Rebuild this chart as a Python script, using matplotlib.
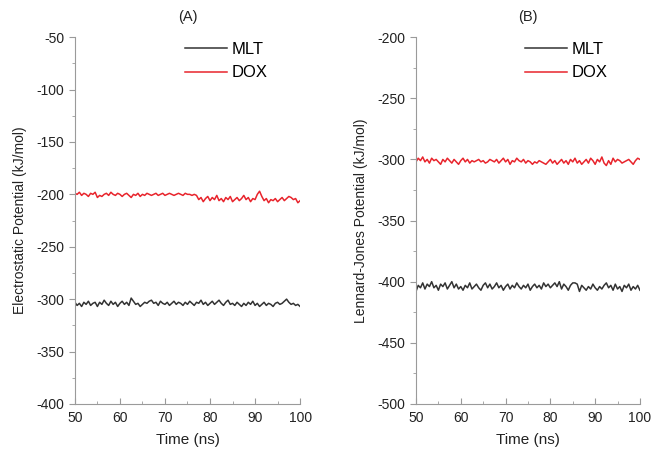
import numpy as np
import matplotlib
matplotlib.use("Agg")
import matplotlib.pyplot as plt
from matplotlib.ticker import MultipleLocator

plt.rcParams['font.family'] = ['Liberation Sans', 'DejaVu Sans']
plt.rcParams['axes.unicode_minus'] = False

mlt_a = [-303,-306,-304,-307,-303,-305,-302,-306,-304,-303,-307,-303,-305,-301,-304,-306,-302,-305,-303,-307,
         -304,-302,-305,-303,-306,-299,-302,-305,-304,-307,-305,-303,-304,-302,-301,-304,-303,-306,-302,-304,
         -305,-303,-306,-304,-302,-305,-303,-304,-306,-303,-305,-302,-304,-306,-303,-304,-301,-305,-303,-306,
         -304,-302,-305,-303,-301,-304,-306,-303,-301,-305,-304,-306,-303,-305,-307,-304,-306,-303,-305,-302,
         -306,-304,-307,-305,-303,-306,-304,-305,-307,-304,-303,-305,-304,-302,-300,-303,-305,-304,-306,-305,-307]
dox_a = [-199,-200,-198,-201,-199,-200,-202,-199,-200,-198,-203,-201,-202,-200,-199,-201,-198,-200,-201,-199,
         -200,-202,-200,-199,-201,-203,-200,-201,-199,-202,-200,-201,-199,-200,-201,-200,-199,-201,-200,-199,
         -201,-200,-199,-200,-201,-200,-199,-200,-201,-199,-200,-200,-201,-200,-201,-205,-203,-207,-204,-202,
         -206,-203,-205,-201,-206,-204,-207,-203,-205,-202,-207,-205,-203,-206,-204,-201,-205,-203,-207,-204,
         -205,-200,-197,-202,-206,-204,-208,-205,-206,-204,-207,-205,-203,-206,-204,-202,-203,-205,-204,-208,-206]
mlt_b = [-408,-403,-405,-401,-406,-402,-404,-400,-405,-403,-407,-402,-404,-401,-406,-403,-400,-405,-402,-406,
         -404,-407,-403,-405,-401,-406,-404,-402,-405,-407,-403,-401,-405,-402,-406,-404,-401,-405,-403,-407,
         -404,-402,-406,-403,-405,-401,-404,-406,-403,-405,-402,-407,-404,-402,-405,-403,-406,-401,-404,-402,
         -405,-403,-401,-404,-400,-406,-402,-404,-407,-403,-401,-401,-402,-408,-403,-405,-407,-404,-406,-402,
         -405,-407,-404,-406,-403,-401,-405,-403,-407,-402,-406,-404,-408,-403,-405,-402,-407,-404,-406,-403,-407]
dox_b = [-302,-299,-301,-298,-302,-300,-303,-299,-301,-300,-302,-304,-300,-302,-299,-301,-303,-300,-302,-304,
         -301,-299,-302,-300,-303,-301,-302,-301,-300,-302,-301,-303,-302,-300,-301,-302,-300,-303,-301,-299,
         -302,-300,-304,-301,-302,-299,-301,-302,-300,-303,-301,-302,-304,-302,-303,-301,-302,-303,-304,-302,
         -300,-303,-301,-304,-302,-300,-303,-301,-304,-300,-302,-299,-303,-301,-304,-302,-300,-303,-299,-301,
         -304,-300,-302,-298,-303,-305,-301,-304,-299,-302,-300,-301,-303,-302,-301,-300,-302,-304,-301,-299,-300]

panels = [
    dict(title="(A)", ylabel="Electrostatic Potential (kJ/mol)", mlt=mlt_a, dox=dox_a, ylim=(-400, -50)),
    dict(title="(B)", ylabel="Lennard-Jones Potential (kJ/mol)", mlt=mlt_b, dox=dox_b, ylim=(-500, -200)),
]

fig = plt.figure(figsize=(6.51, 4.59), dpi=100)
rects = [[0.115, 0.12, 0.346, 0.799], [0.639, 0.12, 0.344, 0.799]]
grey = '#9a9a9a'
for rect, p in zip(rects, panels):
    ax = fig.add_axes(rect)
    t1 = np.linspace(50, 100, len(p['mlt']))
    t2 = np.linspace(50, 100, len(p['dox']))
    ax.plot(t1, p['mlt'], color='#333333', lw=1.1, label='MLT')
    ax.plot(t2, p['dox'], color='#e8242c', lw=1.1, label='DOX')
    ax.set_xlim(50, 100)
    ax.set_ylim(*p['ylim'])
    ax.xaxis.set_major_locator(MultipleLocator(10))
    ax.xaxis.set_minor_locator(MultipleLocator(5))
    ax.yaxis.set_major_locator(MultipleLocator(50))
    ax.yaxis.set_minor_locator(MultipleLocator(25))
    for s in ['top', 'right']:
        ax.spines[s].set_visible(False)
    for s in ['left', 'bottom']:
        ax.spines[s].set_color(grey)
        ax.spines[s].set_linewidth(0.8)
    ax.tick_params(axis='y', which='major', direction='out', length=4, color=grey, labelsize=10, labelcolor='#222222')
    ax.tick_params(axis='y', which='minor', direction='out', length=2, color=grey)
    ax.tick_params(axis='x', which='major', direction='in', length=4, color=grey, labelsize=10, labelcolor='#222222', pad=5)
    ax.tick_params(axis='x', which='minor', direction='in', length=2, color=grey)
    ax.set_xlabel("Time (ns)", fontsize=11, color='#222222', labelpad=6)
    ax.set_ylabel(p['ylabel'], fontsize=10, color='#222222', labelpad=7)
    ax.set_title(p['title'], fontsize=10.5, color='#222222', pad=12)
    ax.legend(loc='upper right', bbox_to_anchor=(0.885, 1.005), frameon=False, fontsize=12,
              handlelength=2.5, handletextpad=0.3, labelspacing=0.5, borderaxespad=0.0)

fig.savefig("out.png", dpi=100, facecolor='white')
